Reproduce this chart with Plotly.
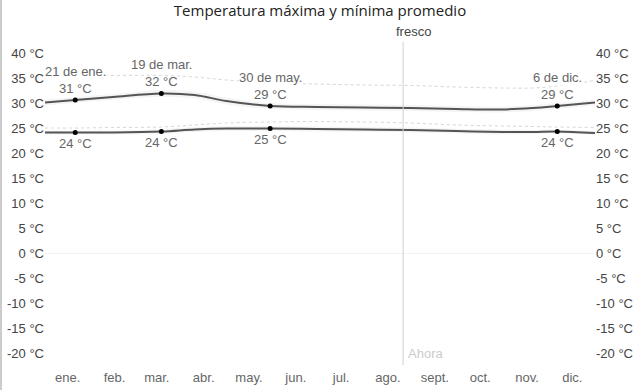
import plotly.graph_objects as go

# ---- data ----
dates = ["2023-01-01", "2023-01-21", "2023-02-15", "2023-03-19", "2023-04-10", "2023-05-01",
         "2023-05-30", "2023-06-30", "2023-07-31", "2023-08-31", "2023-09-30", "2023-10-31",
         "2023-11-20", "2023-12-06", "2023-12-31"]
high = [30.1, 30.6, 31.2, 31.9, 31.6, 30.4, 29.4, 29.2, 29.1, 29.0, 28.8, 28.7, 29.0, 29.4, 30.1]
low = [24.1, 24.1, 24.1, 24.3, 24.7, 24.9, 24.9, 24.8, 24.7, 24.6, 24.4, 24.2, 24.2, 24.3, 24.0]
high_p75 = [30.7, 31.2, 31.8, 32.6, 32.3, 31.1, 30.0, 29.8, 29.7, 29.6, 29.4, 29.3, 29.6, 30.0, 30.7]
high_p25 = [29.5, 30.0, 30.6, 31.2, 30.9, 29.7, 28.8, 28.6, 28.5, 28.4, 28.2, 28.1, 28.4, 28.8, 29.5]
low_p75 = [24.5, 24.5, 24.5, 24.8, 25.2, 25.4, 25.4, 25.3, 25.2, 25.1, 24.9, 24.7, 24.6, 24.7, 24.4]
low_p25 = [23.7, 23.7, 23.7, 23.8, 24.2, 24.4, 24.4, 24.3, 24.2, 24.1, 23.9, 23.7, 23.8, 23.9, 23.6]
high_p90 = [35.0, 35.3, 35.5, 35.5, 35.2, 34.6, 34.0, 33.8, 33.6, 33.5, 33.2, 33.0, 33.0, 33.4, 34.5]
low_p90 = [25.0, 25.0, 25.1, 25.2, 25.6, 26.0, 26.2, 26.3, 26.2, 26.0, 25.6, 25.4, 25.3, 25.2, 25.1]

key_dates = ["2023-01-21", "2023-03-19", "2023-05-30", "2023-12-06"]
key_labels = ["21 de ene.", "19 de mar.", "30 de may.", "6 de dic."]
key_high = [30.6, 31.9, 29.4, 29.4]
key_low = [24.1, 24.3, 24.9, 24.3]
key_high_txt = ["31 °C", "32 °C", "29 °C", "29 °C"]
key_low_txt = ["24 °C", "24 °C", "25 °C", "24 °C"]

month_ticks = ["2023-%02d-16" % m for m in range(1, 13)]
month_labels = ["ene.", "feb.", "mar.", "abr.", "may.", "jun.", "jul.", "ago.", "sept.", "oct.", "nov.", "dic."]
y_ticks = list(range(-20, 45, 5))
y_labels = ["%d °C" % v for v in y_ticks]

now_date = "2023-08-26"
season_date = "2023-09-02"

FONT = "Liberation Sans, Arial, sans-serif"
fig = go.Figure()

def band(upper, lower):
    fig.add_trace(go.Scatter(x=dates, y=upper, mode="lines", line=dict(width=0, shape="spline"),
                             hoverinfo="skip", showlegend=False))
    fig.add_trace(go.Scatter(x=dates, y=lower, mode="lines", line=dict(width=0, shape="spline"),
                             fill="tonexty", fillcolor="rgba(0,0,0,0.04)", hoverinfo="skip", showlegend=False))

band(high_p75, high_p25)
band(low_p75, low_p25)

for s in (high_p90, low_p90):
    fig.add_trace(go.Scatter(x=dates, y=s, mode="lines",
                             line=dict(color="#d6d6d6", width=1, dash="dot", shape="spline"),
                             hoverinfo="skip", showlegend=False))

for s in (high, low):
    fig.add_trace(go.Scatter(x=dates, y=s, mode="lines",
                             line=dict(color="#555555", width=2, shape="spline"), showlegend=False))

fig.add_trace(go.Scatter(x=key_dates + key_dates, y=key_high + key_low, mode="markers",
                         marker=dict(color="#000000", size=5), showlegend=False))

# right axis mirror
fig.add_trace(go.Scatter(x=[dates[0]], y=[0], yaxis="y2", mode="markers",
                         marker=dict(opacity=0), hoverinfo="skip", showlegend=False))

ann = []
for d, lab, h, l, ht, lt in zip(key_dates, key_labels, key_high, key_low, key_high_txt, key_low_txt):
    ann.append(dict(x=d, y=h, text=ht, showarrow=False, yshift=12,
                    font=dict(size=13, color="#666666", family=FONT)))
    ann.append(dict(x=d, y=h, text=lab, showarrow=False, yshift=29, bgcolor="white", borderpad=0,
                    font=dict(size=13, color="#666666", family=FONT)))
    ann.append(dict(x=d, y=l, text=lt, showarrow=False, yshift=-11,
                    font=dict(size=13, color="#666666", family=FONT)))

ann.append(dict(x=season_date, y=1.073, yref="paper", yanchor="middle", text="fresco", showarrow=False,
                font=dict(size=13, color="#444444", family=FONT)))
ann.append(dict(x=now_date, y=-20, text="Ahora", showarrow=False, xanchor="left", xshift=3,
                font=dict(size=13, color="#cccccc", family=FONT)))

shapes = [
    dict(type="line", xref="x", yref="paper", x0=now_date, x1=now_date, y0=-0.04, y1=1.037,
         line=dict(color="#d0d0d0", width=1)),
    dict(type="line", xref="paper", yref="paper", x0=-0.080, x1=-0.080, y0=-0.2, y1=1.2,
         line=dict(color="#cccccc", width=2)),
]

yax = dict(range=[-20, 40], tickvals=y_ticks, ticktext=y_labels, showgrid=False,
           zeroline=True, zerolinecolor="#f2f2f2", zerolinewidth=1, showline=False, ticks="",
           tickfont=dict(size=13, color="#444444", family=FONT), fixedrange=True, automargin=False)

fig.update_layout(
    width=643, height=390,
    margin=dict(l=45, r=48, t=53, b=37, autoexpand=False),
    paper_bgcolor="white", plot_bgcolor="white",
    title=dict(text="Temperatura máxima y mínima promedio", x=0.5, xref="paper", xanchor="center",
               y=0.972, yanchor="middle", font=dict(size=15, color="#222222", family="Open Sans, sans-serif")),
    xaxis=dict(range=["2023-01-01", "2023-12-31"], tickvals=month_ticks, ticktext=month_labels,
               showgrid=False, zeroline=False, showline=False, ticks="", automargin=False,
               tickfont=dict(size=13, color="#666666", family=FONT), ticklabelstandoff=15),
    yaxis=yax,
    yaxis2=dict(yax, overlaying="y", side="right", zeroline=False),
    annotations=ann, shapes=shapes, showlegend=False,
)

fig.write_html("out.html", config={"displayModeBar": False},
               post_script="document.body.style.margin='0';document.body.style.overflow='hidden';")
